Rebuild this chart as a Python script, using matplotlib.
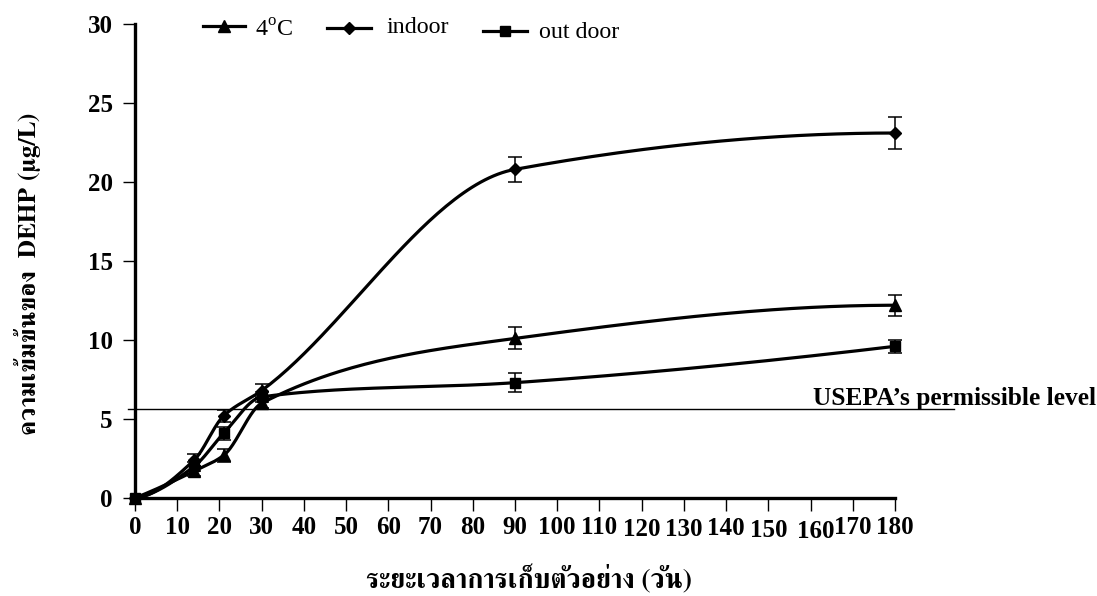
import numpy as np
import matplotlib
matplotlib.use("Agg")
import matplotlib.pyplot as plt
from matplotlib import font_manager
from matplotlib.ft2font import FT2Font
from matplotlib.lines import Line2D
import matplotlib.transforms as mtransforms

# ---- data -------------------------------------------------------------
days = [0, 14, 21, 30, 90, 180]

cold_4c = [0.0, 1.7, 2.7, 6.0, 10.1, 12.2]
cold_4c_err = [0.0, 0.3, 0.4, 0.3, 0.7, 0.65]

indoor = [0.0, 2.4, 5.2, 6.8, 20.8, 23.1]
indoor_err = [0.0, 0.4, 0.4, 0.4, 0.8, 1.0]

outdoor = [0.0, 2.0, 4.1, 6.4, 7.3, 9.6]
outdoor_err = [0.0, 0.3, 0.4, 0.3, 0.6, 0.4]

limit_value = 5.62
limit_label = "USEPA\u2019s permissible level"

x_ticks = list(range(0, 181, 10))
y_ticks = [0, 5, 10, 15, 20, 25, 30]

x_title = "ระยะเวลาการเก็บตัวอย่าง (วัน)"
y_title = "ความเข้มข้นของ  DEHP (µg/L)"


# ---- fonts ------------------------------------------------------------
def find_thai_font():
    best = None
    for f in font_manager.fontManager.ttflist:
        try:
            cmap = FT2Font(f.fname).get_charmap()
        except Exception:
            continue
        if 0x0E01 in cmap:
            score = (f.weight in ("bold", 700)) * 2 + ("serif" in f.name.lower() or "Serif" in f.fname)
            if best is None or score > best[0]:
                best = (score, f.name)
    return best[1] if best else None


thai_family = find_thai_font()
serif = ["Liberation Serif", "DejaVu Serif"]
thai_fam = ([thai_family] if thai_family else []) + serif

plt.rcParams["font.family"] = serif
plt.rcParams["mathtext.fontset"] = "custom"
plt.rcParams["mathtext.rm"] = "Liberation Serif"


# ---- smoothed line: monotone cubic Hermite through the measured points --
def smooth(xs, ys, n=60):
    x = np.asarray(xs, float)
    y = np.asarray(ys, float)
    h = np.diff(x)
    d = np.diff(y) / h
    m = np.zeros_like(y)
    for k in range(1, len(x) - 1):
        if d[k - 1] * d[k] > 0:
            w1 = 2 * h[k] + h[k - 1]
            w2 = h[k] + 2 * h[k - 1]
            m[k] = (w1 + w2) / (w1 / d[k - 1] + w2 / d[k])

    def edge(h0, h1, d0, d1):
        v = ((2 * h0 + h1) * d0 - h0 * d1) / (h0 + h1)
        if np.sign(v) != np.sign(d0):
            return 0.0
        if np.sign(d0) != np.sign(d1) and abs(v) > abs(3 * d0):
            return 3 * d0
        return v

    m[0] = edge(h[0], h[1], d[0], d[1])
    m[-1] = edge(h[-1], h[-2], d[-1], d[-2])
    px, py = [x[0]], [y[0]]
    for k in range(len(x) - 1):
        t = np.linspace(0, 1, n)[1:]
        h00 = 2 * t ** 3 - 3 * t ** 2 + 1
        h10 = t ** 3 - 2 * t ** 2 + t
        h01 = -2 * t ** 3 + 3 * t ** 2
        h11 = t ** 3 - t ** 2
        px.extend(x[k] + t * h[k])
        py.extend(h00 * y[k] + h10 * h[k] * m[k] + h01 * y[k + 1] + h11 * h[k] * m[k + 1])
    return np.array(px), np.array(py)


W, H = 1097, 596
fig = plt.figure(figsize=(W / 100, H / 100), dpi=100)
ax = fig.add_axes([135 / W, 1 - 498 / H, (895 - 135) / W, (498 - 24) / H])

series = [
    (cold_4c, cold_4c_err, "^", 8.5),
    (indoor, indoor_err, "D", 6.5),
    (outdoor, outdoor_err, "s", 7),
]
for vals, errs, mk, ms in series:
    sx, sy = smooth(days, vals)
    ax.plot(sx, sy, color="black", lw=2.3, solid_capstyle="round", zorder=3, clip_on=False)
    ax.errorbar(days[1:], vals[1:], yerr=errs[1:], fmt="none", ecolor="black",
                elinewidth=1.1, capsize=4.8, capthick=1.1, zorder=4, clip_on=False)
    ax.plot(days, vals, ls="none", marker=mk, ms=ms, color="black", zorder=5, clip_on=False)

# permissible level
ax.plot([-1.7, 194], [limit_value, limit_value], color="black", lw=1.0, clip_on=False, zorder=2)
fig.text(813 / W, 1 - 405 / H, limit_label, fontsize=18.3, fontweight="bold",
         ha="left", va="baseline", family=serif)

ax.set_xlim(0, 180)
ax.set_ylim(0, 30)
ax.set_xticks(x_ticks)
ax.set_yticks(y_ticks)
ax.tick_params(axis="both", direction="out", length=9, width=1.0, colors="black",
               labelsize=18)
ax.tick_params(axis="x", pad=4)
ax.tick_params(axis="y", pad=7)
for lab in ax.get_xticklabels() + ax.get_yticklabels():
    lab.set_fontweight("bold")

# slight vertical jitter of the day labels
jitter = {120: -2, 130: -2, 140: -1, 150: -3, 160: -4}
shift_x = {160: 5}
for val, lab in zip(x_ticks, ax.get_xticklabels()):
    dy = jitter.get(val, 0)
    dx = shift_x.get(val, 0)
    if dx or dy:
        lab.set_transform(lab.get_transform() + mtransforms.ScaledTranslation(dx / 100, dy / 100, fig.dpi_scale_trans))

for s in ("top", "right"):
    ax.spines[s].set_visible(False)
for s in ("left", "bottom"):
    ax.spines[s].set_linewidth(2.4)

fig.text(529 / W, 1 - 580 / H, x_title, fontsize=19.5, fontweight="bold",
         ha="center", va="center", family=thai_fam)
fig.text(28 / W, 1 - 274 / H, y_title, fontsize=18.3, fontweight="bold",
         ha="center", va="center", rotation=90, family=thai_fam)

# legend drawn along the top
legend_items = [
    ("^", 8.5, 203, 245, 26, 255, 37, "4$^{\\mathrm{o}}$C"),
    ("D", 6.5, 327, 371, 28, 387, 33, "indoor"),
    ("s", 7, 483, 527, 31, 539, 38, "out door"),
]
for mk, ms, x0, x1, yl, xt, yt, txt in legend_items:
    fig.add_artist(Line2D([x0 / W, x1 / W], [1 - yl / H, 1 - yl / H], color="black", lw=2.3))
    fig.add_artist(Line2D([(x0 + x1) / 2 / W], [1 - yl / H], marker=mk, ms=ms, color="black", ls="none"))
    fig.text(xt / W, 1 - yt / H, txt, fontsize=17.3, ha="left", va="baseline", family=serif)

fig.savefig("out.png", dpi=100, facecolor="white")
